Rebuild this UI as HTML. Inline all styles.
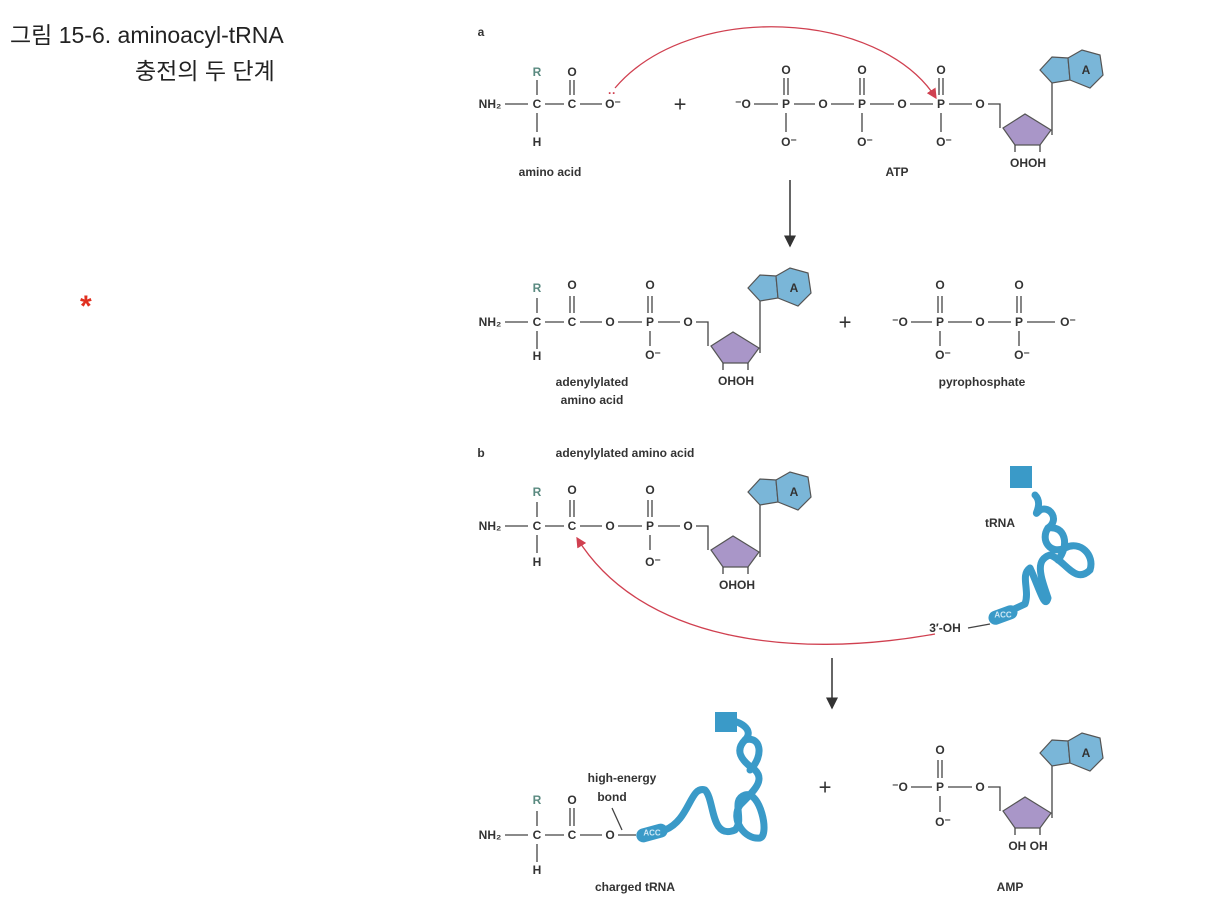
<!DOCTYPE html>
<html><head><meta charset="utf-8"><style>
body{margin:0;background:#fff;width:1225px;height:906px;overflow:hidden;position:relative;font-family:"Liberation Sans","Noto Sans CJK KR",sans-serif}
.t1{position:absolute;left:10px;top:16px;font-size:23px;color:#222}
.t2{position:absolute;left:135px;top:52px;font-size:23px;color:#222}
.ast{position:absolute;left:80px;top:290px;font-size:30px;color:#e03020;font-weight:bold}
svg{position:absolute;left:0;top:0}
svg text{font-family:"Liberation Sans",sans-serif;font-weight:bold;font-size:12px;fill:#333;text-anchor:middle;dominant-baseline:central}
.b{stroke:#444;stroke-width:1.3;fill:none}
</style></head><body>
<div class="t1">그림 15-6. aminoacyl-tRNA</div>
<div class="t2">충전의 두 단계</div>
<div class="ast">*</div>
<svg width="1225" height="906">
<defs>
<g id="nuc">
<path class="b" d="M8,0 H20 V24"/>
<polygon points="23,24 45,10 71,26 60,41 35,41" fill="#a996c8" stroke="#555" stroke-width="1.2"/>
<path class="b" d="M72,31 L72,-22 M35,41 L35,48 M60,41 L60,48"/>
<polygon points="60,-34 72,-47 88,-46 90,-24 72,-21" fill="#7ab6d8" stroke="#555" stroke-width="1.2"/>
<polygon points="88,-46 102,-54 120,-49 123,-29 110,-16 90,-24" fill="#7ab6d8" stroke="#555" stroke-width="1.2"/>
</g>
<marker id="ar" markerWidth="8" markerHeight="8" refX="7" refY="4" orient="auto"><path d="M0,0 L8,4 L0,8z" fill="#333"/></marker>
<marker id="rr" markerWidth="8" markerHeight="8" refX="7" refY="4" orient="auto"><path d="M0,0 L8,4 L0,8z" fill="#d04050"/></marker>
</defs>
<text x="481" y="32">a</text>
<!-- row a1 -->
<g>
<text x="490" y="104">NH₂</text><path class="b" d="M505,104 H528 M545,104 H564 M580,104 H602 M537,80 V95 M537,113 V132 M570,80 V95 M574,80 V95"/>
<text x="537" y="104">C</text><text x="572" y="104">C</text><text x="613" y="104">O⁻</text>
<text x="537" y="72" style="fill:#5a8a80">R</text><text x="572" y="72">O</text><text x="537" y="142">H</text>
<text x="612" y="93" style="fill:#d04050">··</text>
<text x="550" y="172">amino acid</text>
<text x="680" y="104" style="font-size:22px;font-weight:normal">+</text>
<text x="743" y="104">⁻O</text><text x="786" y="104">P</text><text x="823" y="104">O</text><text x="862" y="104">P</text><text x="902" y="104">O</text><text x="941" y="104">P</text><text x="980" y="104">O</text>
<text x="786" y="70">O</text><text x="862" y="70">O</text><text x="941" y="70">O</text>
<text x="789" y="142">O⁻</text><text x="865" y="142">O⁻</text><text x="944" y="142">O⁻</text>
<path class="b" d="M754,104 H778 M794,104 H815 M831,104 H854 M870,104 H894 M910,104 H933 M949,104 H972 M784,78 V95 M788,78 V95 M860,78 V95 M864,78 V95 M939,78 V95 M943,78 V95 M786,113 V132 M862,113 V132 M941,113 V132"/>
<use href="#nuc" x="980" y="104"/><text x="1086" y="70">A</text><text x="1028" y="163">OHOH</text>
<text x="897" y="172">ATP</text>
<path d="M615,88 C690,0 880,10 936,98" stroke="#d04050" stroke-width="1.3" fill="none" marker-end="url(#rr)"/>
<line x1="790" y1="180" x2="790" y2="246" stroke="#333" stroke-width="1.5" marker-end="url(#ar)"/>
</g>
<!-- row a2 -->
<g>
<text x="490" y="322">NH₂</text><path class="b" d="M505,322 H528 M545,322 H564 M580,322 H602 M618,322 H642 M658,322 H680 M537,298 V313 M537,331 V349 M570,296 V313 M574,296 V313 M648,296 V313 M652,296 V313 M650,331 V346"/>
<text x="537" y="322">C</text><text x="572" y="322">C</text><text x="610" y="322">O</text><text x="650" y="322">P</text><text x="688" y="322">O</text>
<text x="537" y="288" style="fill:#5a8a80">R</text><text x="572" y="285">O</text><text x="650" y="285">O</text><text x="537" y="356">H</text><text x="653" y="355">O⁻</text>
<use href="#nuc" x="688" y="322"/><text x="794" y="288">A</text><text x="736" y="381">OHOH</text>
<text x="592" y="382">adenylylated</text><text x="592" y="400">amino acid</text>
<text x="845" y="322" style="font-size:22px;font-weight:normal">+</text>
<text x="900" y="322">⁻O</text><text x="940" y="322">P</text><text x="980" y="322">O</text><text x="1019" y="322">P</text><text x="1068" y="322">O⁻</text>
<text x="940" y="285">O</text><text x="1019" y="285">O</text><text x="943" y="355">O⁻</text><text x="1022" y="355">O⁻</text>
<path class="b" d="M911,322 H932 M948,322 H972 M988,322 H1011 M1027,322 H1055 M938,296 V313 M942,296 V313 M1017,296 V313 M1021,296 V313 M940,331 V346 M1019,331 V346"/>
<text x="982" y="382">pyrophosphate</text>
</g>
<!-- row b -->
<g>
<text x="481" y="453">b</text><text x="625" y="453">adenylylated amino acid</text>
<text x="490" y="526">NH₂</text><path class="b" d="M505,526 H528 M545,526 H564 M580,526 H602 M618,526 H642 M658,526 H680 M537,502 V517 M537,535 V553 M570,500 V517 M574,500 V517 M648,500 V517 M652,500 V517 M650,535 V550"/>
<text x="537" y="526">C</text><text x="572" y="526">C</text><text x="610" y="526">O</text><text x="650" y="526">P</text><text x="688" y="526">O</text>
<text x="537" y="492" style="fill:#5a8a80">R</text><text x="572" y="490">O</text><text x="650" y="490">O</text><text x="537" y="562">H</text><text x="653" y="562">O⁻</text>
<use href="#nuc" x="688" y="526"/><text x="794" y="492">A</text><text x="737" y="585">OHOH</text>
<text x="1000" y="523">tRNA</text>
<text x="945" y="628">3′-OH</text><path class="b" d="M968,628 L990,624"/>
<path d="M935,634 C790,660 640,640 577,538" stroke="#d04050" stroke-width="1.3" fill="none" marker-end="url(#rr)"/>
<g fill="none" stroke="#3a9ac8" stroke-width="7" stroke-linecap="round" stroke-linejoin="round">
<path d="M995,618 L1025,604 C1030,590 1020,575 1030,568 C1040,590 1045,610 1048,598 C1040,575 1035,560 1050,555 C1065,560 1075,585 1090,570 C1095,555 1080,540 1065,548 C1050,555 1040,540 1048,528 C1060,520 1050,505 1040,510 C1030,520 1045,505 1035,495"/>
<path d="M1048,528 C1065,525 1070,545 1058,560"/>
</g>
<rect x="1010" y="466" width="22" height="22" fill="#3a9ac8"/>
<rect x="988" y="608" width="30" height="14" rx="7" fill="#3a9ac8" transform="rotate(-20 1003 615)"/>
<text x="1003" y="615" style="fill:#cfe8f5;font-size:8px">ACC</text>
<line x1="832" y1="658" x2="832" y2="708" stroke="#333" stroke-width="1.5" marker-end="url(#ar)"/>
</g>
<!-- row c -->
<g>
<text x="490" y="835">NH₂</text><path class="b" d="M505,835 H528 M545,835 H564 M580,835 H602 M618,835 H636 M537,811 V826 M537,844 V862 M570,808 V826 M574,808 V826 M622,830 L612,808"/>
<text x="537" y="835">C</text><text x="572" y="835">C</text><text x="610" y="835">O</text>
<text x="537" y="800" style="fill:#5a8a80">R</text><text x="572" y="800">O</text><text x="537" y="870">H</text>
<text x="622" y="778">high-energy</text><text x="612" y="797">bond</text>
<g fill="none" stroke="#3a9ac8" stroke-width="7" stroke-linecap="round" stroke-linejoin="round">
<path d="M665,830 C690,820 690,785 705,790 C715,800 710,840 735,830 C745,820 730,800 745,795 C760,790 770,835 760,838 C745,840 730,820 740,805 C755,790 765,780 755,770 C740,760 735,750 745,740 C755,730 740,720 725,720"/>
<path d="M745,740 C760,735 765,755 750,770"/>
</g>
<rect x="715" y="712" width="22" height="20" fill="#3a9ac8"/>
<rect x="636" y="826" width="32" height="14" rx="7" fill="#3a9ac8" transform="rotate(-15 652 833)"/>
<text x="652" y="833" style="fill:#cfe8f5;font-size:8px">ACC</text>
<text x="635" y="887">charged tRNA</text>
<text x="825" y="787" style="font-size:22px;font-weight:normal">+</text>
<text x="900" y="787">⁻O</text><text x="940" y="787">P</text><text x="980" y="787">O</text>
<text x="940" y="750">O</text><text x="943" y="822">O⁻</text>
<path class="b" d="M911,787 H932 M948,787 H972 M938,760 V778 M942,760 V778 M940,796 V812"/>
<use href="#nuc" x="980" y="787"/><text x="1086" y="753">A</text><text x="1028" y="846">OH OH</text>
<text x="1010" y="887">AMP</text>
</g>
</svg>
</body></html>
